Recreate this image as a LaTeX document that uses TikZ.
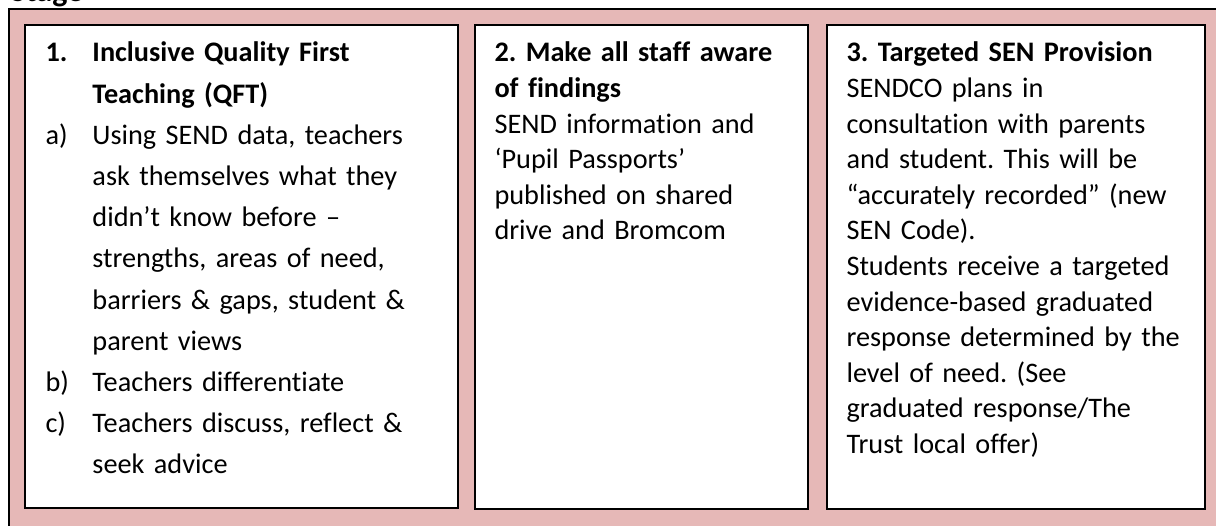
\documentclass[tikz,border=0pt]{standalone}
\usepackage{fontspec}
\setmainfont[Ligatures=NoCommon]{Carlito}
\definecolor{stagepink}{HTML}{E6B8B7}
\newlength{\lblw}
\setlength{\lblw}{17.6pt}
\newcommand{\lbl}[1]{\makebox[\lblw][l]{#1}}
\newcommand{\ind}{\hspace*{\lblw}}
\frenchspacing
\begin{document}
\frenchspacing
\begin{tikzpicture}[x=0.375pt,y=-0.375pt,
  outerpanel/.style={draw=black, line width=0.85pt, fill=stagepink, inner sep=0pt, anchor=north west},
  panel/.style={draw=black, line width=0.75pt, fill=white, inner sep=0pt, anchor=north west},
  wide/.style={font=\fontsize{10.6}{15.45}\selectfont\frenchspacing, inner sep=0pt, anchor=base west, text width=200pt, align=left},
  narrow/.style={font=\fontsize{10.6}{13.35}\selectfont\frenchspacing, inner sep=0pt, anchor=base west, text width=200pt, align=left}]
\useasboundingbox (0,0) rectangle (1216,526);
\clip (0,0) rectangle (1216,526);
\fill[white] (0,0) rectangle (1216,526);
\node[inner sep=0pt, anchor=base west, font=\fontsize{12}{14}\selectfont\bfseries] (stage) at (10,2) {Stage};
\node[outerpanel, minimum width=480pt, minimum height=220pt] (stagebox) at (8,8) {};
\node[panel, minimum width=162.6pt, minimum height=181.1pt] (b1) at (23.5,24) {};
\node[panel, minimum width=124.9pt, minimum height=181.5pt] (b2) at (474,24) {};
\node[panel, minimum width=141.75pt, minimum height=181.5pt] (b3) at (826,24) {};
\node[wide] (t1) at (45,62) {%
\textbf{\lbl{1.}Inclusive Quality First}\\
\ind\textbf{Teaching (QFT)}\\
\lbl{a)}Using SEND data, teachers\\
\ind ask themselves what they\\
\ind didn’t know before –\\
\ind strengths, areas of need,\\
\ind barriers \& gaps, student \&\\
\ind parent views\\
\lbl{b)}Teachers differentiate\\
\lbl{c)}Teachers discuss, reflect \&\\
\ind seek advice};
\node[narrow] (t2) at (494,62) {%
\textbf{2. Make all staff aware}\\
\textbf{of findings}\\
SEND information and\\
‘Pupil Passports’\\
published on shared\\
drive and Bromcom};
\node[narrow] (t3) at (846,62) {%
\textbf{3. Targeted SEN Provision}\\
SENDCO plans in\\
consultation with parents\\
and student. This will be\\
“accurately recorded” (new\\
SEN Code).\\
Students receive a targeted\\
evidence-based graduated\\
response determined by the\\
level of need. (See\\
graduated response/The\\
Trust local offer)};
\end{tikzpicture}
\end{document}
